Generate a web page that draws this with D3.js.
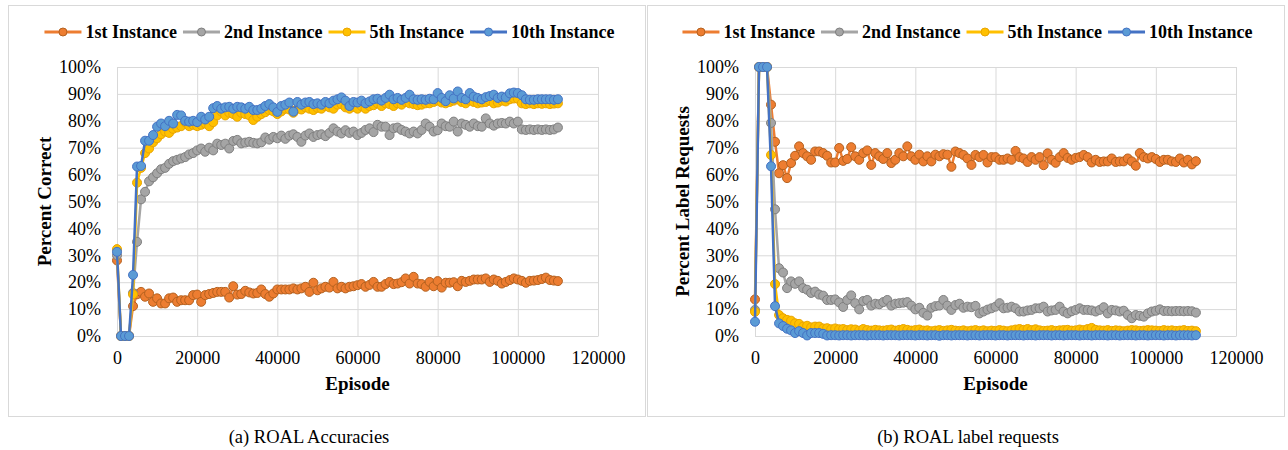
<!DOCTYPE html>
<html>
<head>
<meta charset="utf-8">
<script src="https://cdn.jsdelivr.net/npm/d3@7"></script>
<style>
  html, body { margin: 0; padding: 0; background: #ffffff; }
  svg { display: block; }
  text { font-family: "Liberation Serif", "Times New Roman", serif; fill: #000; }
</style>
</head>
<body>
<svg id="chart" width="1288" height="450"></svg>
<script>
// ---- data -------------------------------------------------------------
const seriesNames = ["1st Instance", "2nd Instance", "5th Instance", "10th Instance"];
const episodeStep = 1000;               // one sample every 1000 episodes
const xTicks = [0, 20000, 40000, 60000, 80000, 100000, 120000];
const yTicks = [0, 10, 20, 30, 40, 50, 60, 70, 80, 90, 100];

// (a) accuracy, percent correct
const acc1 = [28.1, 0, 0, 0, 11.1, 15.5, 16.4, 14.6, 15.8, 12.7,
  14.0, 12.1, 12.1, 14.0, 14.3, 12.7, 13.3, 13.3, 13.3, 15.2,
  15.4, 12.7, 15.2, 15.6, 16.0, 16.4, 16.4, 16.4, 14.3, 18.5,
  15.4, 15.6, 16.8, 16.2, 15.8, 16.0, 17.3, 15.6, 14.6, 15.8,
  17.3, 17.3, 17.3, 17.3, 17.7, 17.3, 17.7, 18.3, 16.4, 19.8,
  17.0, 17.7, 18.3, 18.0, 20.1, 17.7, 18.3, 17.7, 18.3, 18.5,
  18.9, 19.3, 18.3, 19.0, 20.1, 18.3, 18.3, 19.3, 20.1, 19.3,
  19.5, 20.0, 21.4, 19.5, 22.0, 19.5, 19.3, 18.3, 20.1, 18.5,
  20.4, 18.0, 19.8, 19.8, 20.0, 18.5, 20.5, 20.1, 20.5, 21.0,
  21.0, 21.0, 21.4, 20.1, 21.0, 20.5, 19.5, 20.1, 20.8, 21.4,
  21.0, 20.5, 19.8, 20.5, 20.6, 20.8, 21.2, 21.7, 20.8, 20.6,
  20.4];
const acc2 = [30, 0, 0, 0, 16, 35, 50.8, 53.6, 57.5, 59,
  60.5, 62, 62.5, 64, 65, 65.5, 66, 66.5, 67.5, 68,
  69, 69.7, 68.5, 70, 69, 71.5, 71, 71.5, 69.7, 72.5,
  72.9, 71.6, 71.9, 72.2, 71.8, 71.6, 72, 73.8, 73, 74,
  73.5, 74.5, 73.3, 74.5, 75, 74, 72.2, 74.5, 75.3, 74,
  74.7, 75, 74.3, 75.5, 77.2, 76, 75.3, 76.5, 75.5, 76,
  74.7, 75.5, 76.6, 77.2, 75.8, 78.5, 77.8, 77.8, 74.7, 77.2,
  77.5, 76.6, 76, 75.3, 76, 75.3, 76.6, 79, 77.8, 76,
  76.5, 79, 78, 77.8, 79.7, 76, 79, 78.5, 77.8, 79,
  78, 77.8, 80.9, 79, 78.2, 79, 79.2, 79, 79.7, 79,
  79.7, 76.8, 76.6, 76.8, 76.6, 76.8, 76.6, 76.8, 76.6, 76.8,
  77.5];
const acc5 = [32.3, 0, 0, 0, 15.5, 57, 62.5, 68, 69.7, 72,
  73.5, 75, 76, 75.5, 77, 77.5, 78, 79.5, 78, 78.5,
  78, 78.5, 79, 78, 79.5, 82, 83.5, 82, 83, 82.5,
  81.5, 83, 82.5, 82, 80.3, 81.5, 82.5, 83.2, 84, 83.5,
  82.5, 83.5, 84.5, 84.2, 83, 84.5, 84.2, 85, 84.5, 84,
  84.8, 84.5, 85.5, 85, 84.5, 86, 86.2, 85, 84.5, 85.2,
  84.5, 85.5, 84.5, 85.5, 85.8, 86.5, 85.5, 86.5, 86.2, 85.5,
  86.5, 86, 87, 86.5, 86.2, 85.8, 86, 86.5, 86.5, 87,
  87.5, 86.8, 86.5, 87, 87.5, 88, 87, 86.5, 87.5, 87,
  86.5, 86.8, 87, 87.5, 86.5, 86.8, 87.5, 87.2, 88, 88.3,
  88.2, 86.5, 86.2, 86.5, 86.2, 86.5, 86.3, 86.5, 86.2, 86.4,
  86.5];
const acc10 = [31.3, 0, 0, 0, 22.7, 63, 63.2, 72.6, 72.6, 74.7,
  77.8, 79, 78, 80, 79, 82.2, 82, 80, 79.7, 80,
  79.5, 81.5, 80.5, 81.5, 84.7, 85.5, 84.5, 85, 85.2, 84.5,
  85.2, 85, 84.5, 85.2, 84, 84, 84.5, 85.5, 86.2, 85,
  83.3, 85.5, 86, 86.8, 83.4, 87, 86, 86.8, 87, 86.2,
  86.5, 86, 87, 86.5, 87.5, 88, 88.7, 87.5, 85.5, 87,
  86.8, 87.5, 86.5, 87.2, 88, 88.2, 87.5, 88.5, 89.7, 88,
  88.5, 87.8, 88.5, 89.7, 88, 87.8, 88, 87.8, 88.2, 88,
  90.3, 88.5, 87.3, 89.5, 88.3, 90.9, 88.5, 88, 90.3, 89,
  88.5, 88, 88.8, 89.2, 89.7, 88.5, 89, 88.7, 90.2, 90.5,
  90.3, 89.5, 88, 87.8, 87.8, 88, 88, 88, 88, 87.8,
  88];

// (b) label requests, percent of episodes
const lab1 = [13.6, 100, 100, 100, 86, 72.2, 60.5, 63.5, 58.7, 64.3,
  67, 70.5, 68, 66.8, 65.5, 68.6, 68.6, 68, 67, 64.5,
  64.5, 69.9, 65.1, 65.8, 70.2, 66.8, 65.5, 68, 69, 63.6,
  68, 66.8, 65.8, 68, 64.3, 65.5, 68, 66.8, 70.5, 66.8,
  65.5, 67.4, 64.9, 66.8, 64.9, 67.4, 66.8, 67.6, 67.4, 62.9,
  68.6, 68, 67.3, 66, 63.6, 67.3, 66.5, 67.3, 64.5, 66.5,
  66.5, 65.5, 65.5, 66, 65.5, 68.8, 66.5, 66, 64.7, 66.5,
  65.5, 66.5, 63.5, 67.9, 65.5, 64.4, 66.5, 68, 66.2, 65.5,
  66.2, 66.5, 67.3, 66.5, 64.5, 65.5, 64.7, 64.9, 64.9, 66,
  64.7, 64.9, 64.9, 66, 64.9, 63.3, 68, 66.5, 66, 66.5,
  65.8, 64.7, 65.5, 65.5, 64.9, 64.7, 66, 64.5, 65.5, 63.8,
  65];
const lab2 = [9.7, 100, 100, 100, 79.2, 47.1, 25.2, 23.6, 17.8, 20.3,
  19.4, 20.3, 17.8, 17.2, 16, 16.5, 15.4, 15, 13.4, 13.4,
  13.6, 12.5, 10.8, 13.4, 15.1, 12.2, 9.9, 13, 13.4, 11.3,
  12, 11.8, 12.6, 13.4, 11.3, 12, 12.2, 12.4, 12.6, 11.3,
  9.9, 10.5, 8.6, 7.6, 10.5, 11.1, 11.3, 13.4, 11.3, 9.7,
  11.5, 12, 10.5, 10.9, 10.7, 11.2, 8.4, 9.1, 9.8, 10.3,
  10.9, 12.2, 10.3, 10.5, 10.9, 10.3, 9.1, 9.1, 9.5, 9.7,
  10.3, 10.3, 10.9, 9.1, 9.5, 9.7, 10.9, 9.1, 8.4, 9.2,
  9.7, 10.3, 9.7, 9.7, 9.5, 9.1, 9.7, 10.7, 8.4, 9.7,
  9.5, 9.1, 9.4, 7.8, 6.6, 7.8, 7.5, 7.2, 8.4, 9.1,
  9.4, 9.9, 9.3, 9.3, 9.2, 9.3, 9.3, 9.2, 9.3, 9.2,
  8.7];
const lab5 = [9, 100, 100, 100, 67.3, 19.3, 7.8, 6.6, 6, 5.7,
  4.7, 4.5, 3.5, 3.8, 3.2, 3.5, 3.5, 2.8, 2.9, 2.5,
  2.8, 2.5, 2.6, 2.2, 2.5, 2.4, 2, 2.6, 2.2, 2,
  2.3, 2.1, 2, 2.2, 2.4, 2, 2.3, 2.6, 2.3, 2,
  2.2, 2.4, 2, 2.1, 1.8, 2, 2.2, 1.9, 2.1, 2.3,
  2, 1.9, 2.1, 1.8, 2, 2.2, 1.9, 2.1, 1.8, 2,
  1.9, 2.2, 2, 1.8, 2.1, 2.4, 2.6, 2.3, 2.6, 2.2,
  2.5, 2.1, 1.9, 2, 2.2, 1.9, 2.1, 2.2, 2.3, 2,
  2.1, 2.4, 2.2, 2.6, 3, 2.3, 2.1, 2, 2.2, 1.9,
  2.1, 2, 1.8, 2, 2.2, 2.1, 1.9, 2, 2.2, 2.1,
  2, 1.9, 2.2, 2, 2.1, 1.9, 2, 2.2, 1.9, 2,
  1.8];
const lab10 = [5.3, 100, 100, 100, 63.1, 11.1, 4.7, 3.7, 2.7, 2.1,
  1.1, 1.8, 1.1, 0.2, 1.1, 1.1, 1.1, 0.8, 0.2, 0.3,
  0.3, 0.2, 0.3, 0.3, 0.2, 0.3, 0.3, 0.3, 0.2, 0.3,
  0.3, 0.3, 0.2, 0.3, 0.3, 0.3, 0.2, 0.3, 0.3, 0.3,
  0.2, 0.3, 0.3, 0.2, 0.3, 0.3, 0.1, 0.3, 0.3, 0.2,
  0.3, 0.3, 0.3, 0.2, 0.3, 0.3, 0.2, 0.3, 0.3, 0.3,
  0.2, 0.3, 0.3, 0.2, 0.3, 0.3, 0.3, 0.2, 0.3, 0.3,
  0.2, 0.3, 0.3, 0.3, 0.2, 0.3, 0.3, 0.2, 0.3, 0.3,
  0.3, 0.2, 0.3, 0.3, 0.2, 0.3, 0.3, 0.3, 0.2, 0.3,
  0.3, 0.2, 0.3, 0.3, 0.3, 0.2, 0.3, 0.3, 0.2, 0.3,
  0.3, 0.3, 0.2, 0.3, 0.3, 0.2, 0.3, 0.3, 0.3, 0.2,
  0.3];

// ---- styling ----------------------------------------------------------
const lineColors   = ["#ED7D31", "#A5A5A5", "#FFC000", "#4472C4"];
const markerFills  = ["#ED7D31", "#A5A5A5", "#FFC000", "#5B9BD5"];
const markerEdges  = ["#B4611F", "#7F7F7F", "#E9A400", "#4472C4"];
const gridColor = "#D9D9D9";
const serif = "'Liberation Serif', 'Times New Roman', serif";

const panels = [
  { box: [8, 5, 645, 416], plot: [117, 67, 598, 336],
    yTitle: "Percent Correct", yTitleX: 50.5,
    caption: "(a) ROAL Accuracies", captionX: 309,
    series: [acc1, acc2, acc5, acc10] },
  { box: [647, 5, 1284, 416], plot: [755, 67, 1236, 336],
    yTitle: "Percent Label Requests", yTitleX: 689,
    caption: "(b) ROAL label requests", captionX: 968,
    series: [lab1, lab2, lab5, lab10] }
];

const svg = d3.select("#chart");

panels.forEach(p => {
  const [bx0, by0, bx1, by1] = p.box;
  const [px0, py0, px1, py1] = p.plot;
  const g = svg.append("g");

  // panel frame
  g.append("rect")
    .attr("x", bx0 + 0.5).attr("y", by0 + 0.5)
    .attr("width", bx1 - bx0).attr("height", by1 - by0)
    .attr("fill", "#fff").attr("stroke", gridColor).attr("stroke-width", 1);

  const x = d3.scaleLinear().domain([0, 120000]).range([px0, px1]);
  const y = d3.scaleLinear().domain([0, 100]).range([py1, py0]);

  // x axis with vertical gridlines
  const gx = g.append("g")
    .attr("transform", `translate(0,${py1})`)
    .call(d3.axisBottom(x).tickValues(xTicks).tickFormat(d3.format("d"))
      .tickSize(-(py1 - py0)).tickSizeOuter(0).tickPadding(15))
    .attr("font-family", serif).attr("font-size", 18);
  gx.select(".domain").attr("stroke", gridColor);
  gx.selectAll(".tick line").attr("stroke", gridColor);
  gx.selectAll(".tick text").attr("fill", "#000");

  // y axis with horizontal gridlines
  const gy = g.append("g")
    .attr("transform", `translate(${px0},0)`)
    .call(d3.axisLeft(y).tickValues(yTicks).tickFormat(d => d + "%")
      .tickSize(-(px1 - px0)).tickSizeOuter(0).tickPadding(16))
    .attr("font-family", serif).attr("font-size", 18);
  gy.select(".domain").attr("stroke", gridColor);
  gy.selectAll(".tick line").attr("stroke", gridColor);
  gy.selectAll(".tick text").attr("fill", "#000");

  // series: line first, then markers, drawn in legend order
  p.series.forEach((vals, s) => {
    const pts = vals.map((v, i) => ({ ep: i * episodeStep, v }));
    const line = d3.line().x(d => x(d.ep)).y(d => y(d.v));
    g.append("path")
      .datum(pts)
      .attr("d", line)
      .attr("fill", "none")
      .attr("stroke", lineColors[s])
      .attr("stroke-width", 2.5)
      .attr("stroke-linejoin", "round");
    g.append("g").selectAll("circle")
      .data(pts).join("circle")
      .attr("cx", d => x(d.ep)).attr("cy", d => y(d.v))
      .attr("r", 4.5)
      .attr("fill", markerFills[s])
      .attr("stroke", markerEdges[s])
      .attr("stroke-width", 1);
  });

  // legend across the top
  const lg = g.append("g");
  const items = seriesNames.map((name, s) => {
    const it = lg.append("g");
    const t = it.append("text").text(name)
      .attr("font-size", 18).attr("font-weight", "bold").attr("y", 38);
    return { it, t, w: t.node().getComputedTextLength(), s };
  });
  const lineLen = 37, gapText = 4, gapItem = 6;
  const total = d3.sum(items, d => lineLen + gapText + d.w) + gapItem * (items.length - 1);
  let cx = px0 + 212.5 - total / 2;
  items.forEach(d => {
    d.it.append("line")
      .attr("x1", cx).attr("x2", cx + lineLen).attr("y1", 32).attr("y2", 32)
      .attr("stroke", lineColors[d.s]).attr("stroke-width", 3);
    d.it.append("circle")
      .attr("cx", cx + lineLen / 2).attr("cy", 32).attr("r", 4)
      .attr("fill", markerFills[d.s]).attr("stroke", markerEdges[d.s]).attr("stroke-width", 1);
    d.t.attr("x", cx + lineLen + gapText).raise();
    cx += lineLen + gapText + d.w + gapItem;
  });

  // axis titles
  g.append("text")
    .attr("x", (px0 + px1) / 2).attr("y", 390)
    .attr("text-anchor", "middle")
    .attr("font-size", 19).attr("font-weight", "bold")
    .text("Episode");
  g.append("text")
    .attr("transform", `translate(${p.yTitleX},${(py0 + py1) / 2}) rotate(-90)`)
    .attr("text-anchor", "middle")
    .attr("font-size", 19).attr("font-weight", "bold")
    .text(p.yTitle);

  // caption under the panel
  svg.append("text")
    .attr("x", p.captionX).attr("y", 443)
    .attr("text-anchor", "middle")
    .attr("font-size", 18.5)
    .text(p.caption);
});
</script>
</body>
</html>
